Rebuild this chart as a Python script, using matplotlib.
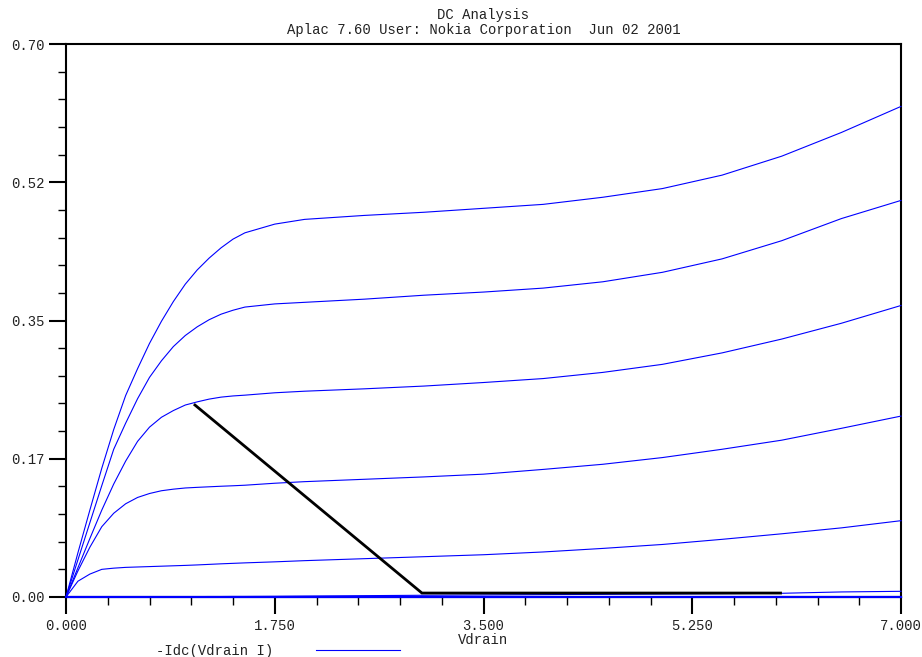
import numpy as np
import matplotlib
matplotlib.use("Agg")
import matplotlib.pyplot as plt
from matplotlib.ticker import MultipleLocator

plt.rcParams['font.family'] = ['Liberation Mono', 'DejaVu Sans Mono']
plt.rcParams['font.size'] = 10

# drain voltage grid (V)
vd = [0, 0.1, 0.2, 0.3, 0.4, 0.5, 0.6, 0.7, 0.8, 0.9, 1.0, 1.1, 1.2, 1.3, 1.4, 1.5,
      1.75, 2.0, 2.5, 3.0, 3.5, 4.0, 4.5, 5.0, 5.5, 6.0, 6.5, 7.0]

# -Idc(Vdrain I) for each gate step, highest first
id1 = [0, 0.056, 0.110, 0.163, 0.212, 0.255, 0.289, 0.321, 0.349, 0.374, 0.396, 0.414,
       0.429, 0.442, 0.453, 0.461, 0.472, 0.478, 0.483, 0.487, 0.492, 0.497, 0.506,
       0.517, 0.534, 0.558, 0.588, 0.621]
id2 = [0, 0.047, 0.094, 0.141, 0.187, 0.220, 0.251, 0.278, 0.299, 0.317, 0.331, 0.342,
       0.351, 0.358, 0.363, 0.367, 0.371, 0.373, 0.377, 0.382, 0.386, 0.391, 0.399,
       0.411, 0.428, 0.451, 0.479, 0.502]
id3 = [0, 0.037, 0.074, 0.110, 0.143, 0.172, 0.197, 0.215, 0.2275, 0.236, 0.243, 0.247,
       0.2505, 0.253, 0.2545, 0.2555, 0.2585, 0.2605, 0.2635, 0.267, 0.2715, 0.2765,
       0.2843, 0.2945, 0.309, 0.3265, 0.3465, 0.369]
id4 = [0, 0.033, 0.063, 0.089, 0.106, 0.118, 0.126, 0.131, 0.1345, 0.1365, 0.138, 0.1388,
       0.1395, 0.1402, 0.1408, 0.1415, 0.144, 0.146, 0.149, 0.152, 0.1555, 0.1615,
       0.168, 0.1765, 0.187, 0.1985, 0.2135, 0.229]
id5 = [0, 0.020, 0.029, 0.035, 0.0365, 0.0375, 0.038, 0.0385, 0.039, 0.0395, 0.040, 0.0406,
       0.0413, 0.042, 0.0426, 0.0432, 0.0445, 0.046, 0.0485, 0.051, 0.0535, 0.057,
       0.0615, 0.0665, 0.073, 0.080, 0.0875, 0.0966]
id6 = [0, 0, 0.0001, 0.0001, 0.0002, 0.0002, 0.0003, 0.0003, 0.0004, 0.0004, 0.0005, 0.0005,
       0.0006, 0.0006, 0.0007, 0.0007, 0.0009, 0.0012, 0.0017, 0.0022, 0.0026, 0.003,
       0.0034, 0.0038, 0.0042, 0.0047, 0.0064, 0.0072]
id7 = [0] * len(vd)

# load line
load_x = [1.081, 2.984, 5.99]
load_y = [0.243, 0.005, 0.005]

xticks = [0, 1.75, 3.5, 5.25, 7.0]
xlabels = ['0.000', '1.750', '3.500', '5.250', '7.000']
yticks = [0, 0.175, 0.35, 0.525, 0.70]
ylabels = ['0.00', '0.17', '0.35', '0.52', '0.70']

fig = plt.figure(figsize=(9.22, 6.57), dpi=100)
ax = fig.add_axes([66/922, 60/657, 835/922, 553/657])

curves = [id1, id2, id3, id4, id5, id6]
for i, c in enumerate(curves):
    ax.plot(vd, c, color='#0000ff', lw=0.8, clip_on=False, zorder=3,
            label='-Idc(Vdrain I)' if i == 0 else None)
ax.plot(vd, id7, color='#0000ff', lw=1.6, clip_on=False, zorder=3)
ax.plot(load_x, load_y, color='black', lw=2.0, zorder=4, solid_joinstyle='miter')

ax.set_xlim(0, 7)
ax.set_ylim(0, 0.70)
ax.set_xticks(xticks)
ax.set_xticklabels(xlabels)
ax.set_yticks(yticks)
ax.set_yticklabels(ylabels)
ax.xaxis.set_minor_locator(MultipleLocator(0.35))
ax.yaxis.set_minor_locator(MultipleLocator(0.035))
ax.tick_params(which='major', direction='out', length=12, width=1.5, pad=3.5, colors='black')
ax.tick_params(which='minor', direction='out', length=5.5, width=1.0)
ax.tick_params(labelcolor='#222222')
for s in ax.spines.values():
    s.set_linewidth(1.5)

ax.set_xlabel('Vdrain', labelpad=0, color='#222222')

fig.text(483.5/922, 1 - 15/657, 'DC Analysis', ha='center', va='center', color='#222222')
fig.text(483.5/922, 1 - 30/657, 'Aplac 7.60 User: Nokia Corporation  Jun 02 2001',
         ha='center', va='center', color='#222222')

leg = ax.legend(loc='center left', bbox_to_anchor=(156/922, 1 - 651/657),
                bbox_transform=fig.transFigure, frameon=False, markerfirst=False,
                handlelength=6.0, handletextpad=3.1, borderpad=0, borderaxespad=0)
for t in leg.get_texts():
    t.set_color('#222222')

fig.savefig('out.png', dpi=100)
